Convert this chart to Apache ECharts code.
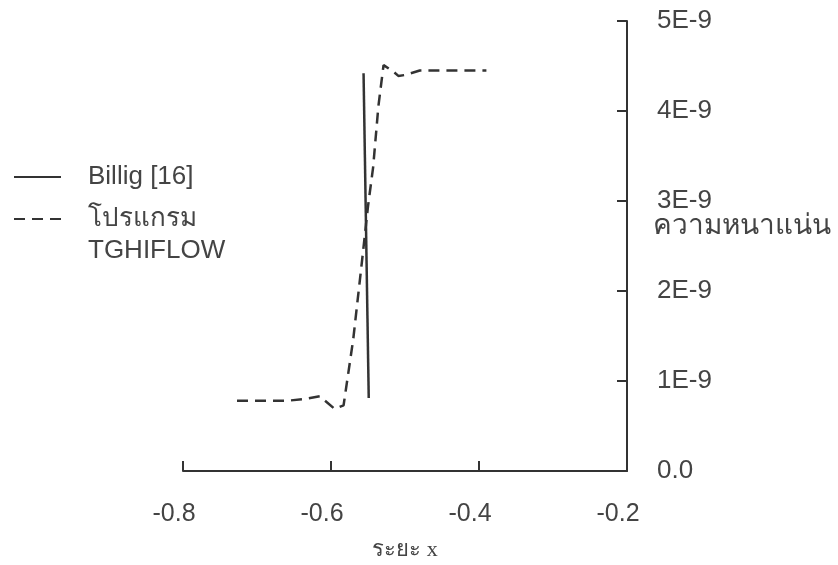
<!DOCTYPE html>
<html>
<head>
<meta charset="utf-8">
<script src="https://cdn.jsdelivr.net/npm/echarts@6/dist/echarts.min.js"></script>
<style>
  html, body { margin: 0; padding: 0; background: #fff; }
  #chart { width: 838px; height: 565px; }
</style>
</head>
<body>
<div id="chart"></div>
<script>
  // ข้อมูลอ่านจากกราฟ (ค่า y หน่วย 1E-9)
  var programX = [-0.727, -0.66, -0.635, -0.615, -0.595, -0.583, -0.570, -0.558, -0.550, -0.543,
                  -0.536, -0.529, -0.516, -0.509, -0.500, -0.480, -0.390];
  var programY = [0.78, 0.78, 0.80, 0.83, 0.69, 0.73, 1.46, 2.34, 2.94, 3.38,
                  4.05, 4.51, 4.44, 4.39, 4.40, 4.45, 4.45];
  var billigX = [-0.556, -0.549];
  var billigY = [4.42, 0.81];
  var yTickLabels = ['0.0', '1E-9', '2E-9', '3E-9', '4E-9', '5E-9'];

  var SCALE = 1e-9;
  var ink = '#333';
  var font = 'Arial, "Liberation Sans", sans-serif';

  function pairs (xs, ys) {
    var out = [];
    for (var i = 0; i < xs.length; i++) {
      out.push([xs[i], ys[i] * SCALE]);
    }
    return out;
  }

  var myChart = echarts.init(document.getElementById('chart'));

  var option = {
    backgroundColor: '#fff',
    animation: false,
    grid: {
      left: 183,
      right: 211,
      top: 21,
      bottom: 94,
      outerBoundsMode: 'none'
    },
    legend: {
      orient: 'vertical',
      left: 8,
      top: 159,
      itemWidth: 47,
      itemHeight: 14,
      itemGap: 16,
      itemStyle: { opacity: 0 },
      data: ['Billig [16]', 'โปรแกรม'],
      textStyle: {
        fontFamily: font,
        fontSize: 26,
        color: '#444',
        padding: [0, 0, 0, 22]
      }
    },
    xAxis: {
      type: 'value',
      min: -0.8,
      max: -0.2,
      interval: 0.2,
      name: 'ระยะ x',
      nameLocation: 'middle',
      nameGap: 68,
      nameTextStyle: {
        fontFamily: 'serif',
        fontSize: 22,
        color: '#444'
      },
      axisLine: { lineStyle: { color: ink, width: 2 } },
      axisTick: { inside: true, length: 10, lineStyle: { color: ink, width: 2 } },
      splitLine: { show: false },
      axisLabel: {
        margin: 31,
        fontFamily: font,
        fontSize: 25,
        color: '#444',
        padding: [0, 18, 0, 0],
        formatter: function (v) { return v.toFixed(1); }
      }
    },
    yAxis: {
      type: 'value',
      position: 'right',
      min: 0,
      max: 5 * SCALE,
      interval: SCALE,
      axisLine: { show: true, lineStyle: { color: ink, width: 2 } },
      axisTick: { show: true, inside: true, length: 10, lineStyle: { color: ink, width: 2 } },
      splitLine: { show: false },
      axisLabel: {
        margin: 30,
        fontFamily: font,
        fontSize: 26,
        color: '#444',
        formatter: function (v) {
          return yTickLabels[Math.round(v / SCALE)];
        }
      }
    },
    graphic: [
      {
        type: 'text',
        left: 653,
        top: 212,
        style: {
          text: 'ความหนาแน่น',
          fontFamily: font,
          fontSize: 28,
          fill: '#444'
        }
      },
      {
        type: 'text',
        left: 88,
        top: 238,
        style: {
          text: 'TGHIFLOW',
          fontFamily: font,
          fontSize: 26,
          fill: '#444'
        }
      }
    ],
    series: [
      {
        name: 'Billig [16]',
        type: 'line',
        symbol: 'none',
        lineStyle: { color: ink, width: 2.5, type: 'solid' },
        itemStyle: { color: ink },
        data: pairs(billigX, billigY)
      },
      {
        name: 'โปรแกรม',
        type: 'line',
        symbol: 'none',
        lineStyle: { color: ink, width: 2.5, type: [11, 7] },
        itemStyle: { color: ink },
        data: pairs(programX, programY)
      }
    ]
  };

  myChart.setOption(option);
</script>
</body>
</html>
